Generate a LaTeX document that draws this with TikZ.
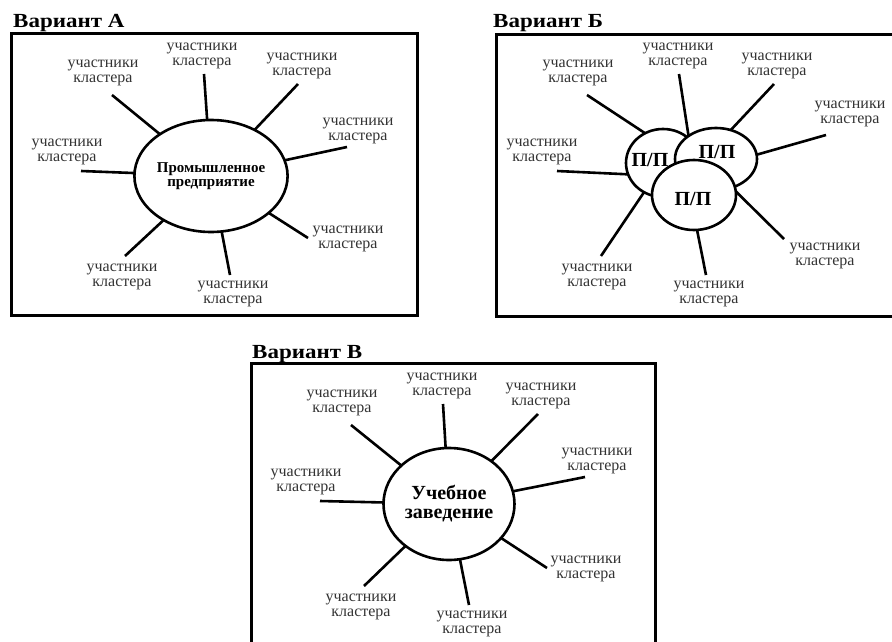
\documentclass[tikz,border=0pt]{standalone}
\usepackage{graphicx}
\usepackage{fontspec}
\setmainfont{Liberation Serif}
\usetikzlibrary{shapes.geometric}
\newcommand{\ttltext}[1]{\scalebox{1.15}[1]{#1}}
\begin{document}
\begin{tikzpicture}[x=1pt,y=-1pt,
  frame/.style={line width=3pt},
  hub/.style={ellipse, draw, line width=2.6pt, fill=white, inner sep=0pt, outer sep=0pt},
  spoke/.style={line width=2.6pt},
  lbl/.style={align=center, font=\fontsize{16}{15}\selectfont, text=black!80, inner sep=0pt},
  ttl/.style={font=\fontsize{20}{22}\selectfont\bfseries, anchor=base west, inner sep=0pt},
  hubtext/.style={font=\fontsize{20}{20}\selectfont\bfseries, inner sep=0pt},
]
\useasboundingbox (0,0) rectangle (892,642);
% ---------- Variant A ----------
\node[ttl] (tA) at (13,28) {\ttltext{Вариант А}};
\draw[frame] (11,34) rectangle (417,315);
\node[hub, minimum width=132pt, minimum height=112pt, align=center,
      font=\fontsize{15}{13.5}\selectfont\bfseries] (A) at (211,176) {Промышленное\\предприятие};
\foreach \n/\ox/\oy/\lx/\ly in {1/204/74/202/56, 2/298/84/302/66, 3/347/147/358/131,
    4/308/238/348/239, 5/230/275/233/294, 6/125/256/122/277, 7/81/171/67/152, 8/112/95/103/73}{
  \node[lbl] (la\n) at (\lx,\ly) {участники\\кластера};
  \coordinate (oa\n) at (\ox,\oy);
  \draw[spoke] (oa\n) -- (A);
}
% ---------- Variant B ----------
\node[ttl] (tB) at (493,28) {\ttltext{Вариант Б}};
\draw[frame] (496,35) rectangle (900,316);
\node[hub, minimum width=74pt, minimum height=68pt] (L) at (663,163) {};
\node[hub, minimum width=82pt, minimum height=62pt] (R) at (716,159) {};
\node[hub, minimum width=84pt, minimum height=70pt] (Bt) at (694,195) {};
\node[hubtext] (tL) at (650,160) {П/П};
\node[hubtext] (tR) at (717,152) {П/П};
\node[hubtext] (tBt) at (693,199) {П/П};
\foreach \n/\lx/\ly in {1/678/56, 2/777/66, 3/850/114, 4/825/256,
    5/709/294, 6/597/277, 7/542/152, 8/578/73}{
  \node[lbl] (lb\n) at (\lx,\ly) {участники\\кластера};
}
\coordinate (ob1) at (679,74);
\coordinate (ob2) at (774,84);
\coordinate (ob3) at (826,135);
\coordinate (ob4) at (784,239);
\coordinate (ob5) at (706,275);
\coordinate (ob6) at (601,256);
\coordinate (ob7) at (557,171);
\coordinate (ob8) at (587,95);
\draw[spoke] (ob1) -- (R.140);
\draw[spoke] (ob2) -- (R.63);
\draw[spoke] (ob3) -- (R.6);
\draw[spoke] (ob4) -- (Bt.5);
\draw[spoke] (ob5) -- (Bt.-85);
\draw[spoke] (ob6) -- (L.-123);
\draw[spoke] (ob7) -- (L.198);
\draw[spoke] (ob8) -- (L.121);
% ---------- Variant C ----------
\node[ttl] (tC) at (252,358) {\ttltext{Вариант В}};
\draw[frame] (251,363) rectangle (655,650);
\node[hub, minimum width=131pt, minimum height=112pt, align=center,
      font=\fontsize{20}{19}\selectfont\bfseries] (C) at (449,504) {Учебное\\заведение};
\foreach \n/\ox/\oy/\lx/\ly in {1/443/404/442/386, 2/538/414/541/396, 3/585/477/597/461,
    4/547/568/586/569, 5/469/605/472/624, 6/364/586/361/607, 7/320/501/306/482, 8/351/425/342/403}{
  \node[lbl] (lc\n) at (\lx,\ly) {участники\\кластера};
  \coordinate (oc\n) at (\ox,\oy);
  \draw[spoke] (oc\n) -- (C);
}
\end{tikzpicture}
\end{document}
